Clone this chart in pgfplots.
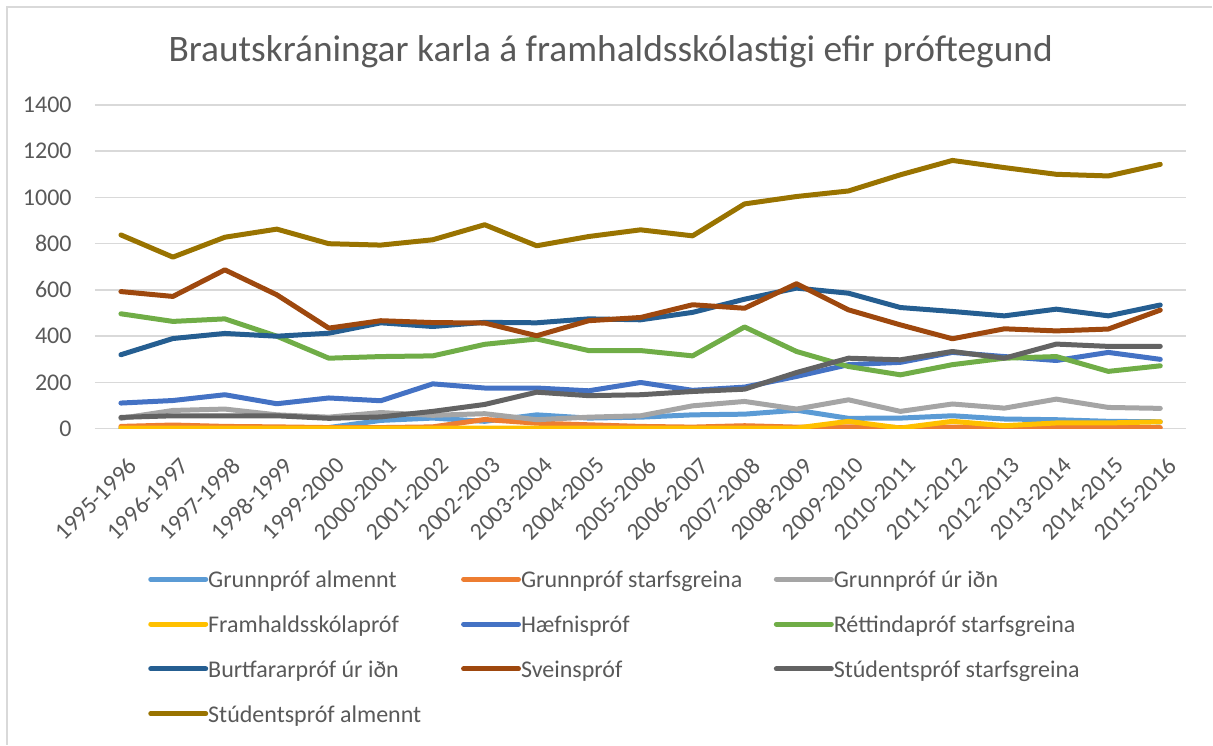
\documentclass[border=0pt]{standalone}
\usepackage{fontspec}
\setmainfont{Carlito}
\usepackage{pgfplots}
\usepackage{pgfplotstable}
\pgfplotsset{compat=1.18}

\definecolor{txt}{HTML}{595959}
\definecolor{gridc}{HTML}{D9D9D9}
\definecolor{cA}{HTML}{5B9BD5}
\definecolor{cB}{HTML}{ED7D31}
\definecolor{cC}{HTML}{A5A5A5}
\definecolor{cD}{HTML}{FFC000}
\definecolor{cE}{HTML}{4472C4}
\definecolor{cF}{HTML}{70AD47}
\definecolor{cG}{HTML}{255E91}
\definecolor{cH}{HTML}{9E480E}
\definecolor{cI}{HTML}{636363}
\definecolor{cJ}{HTML}{997300}

% i: 0 = 1995-1996 ... 20 = 2015-2016
\pgfplotstableread{
i  galm gstarf gidn framh haefni rett burt svein stst stalm
0  3    10     45   3      111    497  320  593   49   838
1  3    16     79   3      122    464  390  572   56   742
2  3    10     85   3      147    475  412  687   56   828
3  3    8      60   3      108    400  400  579   56   863
4  5    5      50   3      133    305  413  435   45   800
5  36   5      70   3      121    312  458  467   51   794
6  46   8      58   3      194    315  442  459   75   817
7  32   40     65   3      176    365  460  457   105  882
8  60   24     39   3      176    388  458  402   158  791
9  46   17     50   3      164    338  475  467   143  831
10 50   10     56   3      200    338  471  481   147  860
11 60   7      99   3      166    315  503  536   161  834
12 63   13     118  3      180    440  560  521   171  972
13 80   7      85   3      226    334  608  627   243  1004
14 45   8      125  32     277    269  586  514   305  1028
15 46   5      75   3      287    233  524  449   298  1098
16 56   7      107  32     330    277  507  389   334  1160
17 42   5      89   13     312    305  488  432   305  1129
18 39   5      128  25     295    312  517  423   366  1100
19 32   5      92   25     330    248  488  431   356  1093
20 30   5      88   30     300    272  535  513   356  1143
}\data

\begin{document}
\begin{tikzpicture}
\path (0pt,0pt) rectangle (606.5pt,372.5pt);
\draw[gridc, line width=0.75pt] (3.5pt,0pt) -- (3.5pt,369pt) -- (606.5pt,369pt);
\node[anchor=base, text=txt, font=\fontsize{18.7}{22}\selectfont, inner sep=0pt]
  at (305.5pt,341.5pt) {Brautskráningar karla á framhaldsskólastigi efir próftegund};
\begin{axis}[
  at={(47.5pt,158pt)}, anchor=south west,
  scale only axis, width=546pt, height=162pt,
  xmin=-0.5, xmax=20.5, ymin=0, ymax=1400,
  ytick={0,200,...,1400},
  xtick={0,...,20},
  xticklabels={1995-1996,1996-1997,1997-1998,1998-1999,1999-2000,2000-2001,2001-2002,2002-2003,2003-2004,2004-2005,2005-2006,2006-2007,2007-2008,2008-2009,2009-2010,2010-2011,2011-2012,2012-2013,2013-2014,2014-2015,2015-2016},
  axis line style={draw=none},
  major tick length=0pt,
  ymajorgrids, grid style={gridc, line width=0.75pt},
  /pgf/number format/assume math mode=true,
  /pgf/number format/1000 sep={},
  tick label style={font=\fontsize{12}{14.4}\selectfont, text=txt},
  yticklabel style={anchor=east, inner sep=0pt, xshift=-11.5pt},
  xticklabel style={inner sep=0pt, xshift=3pt, yshift=-13.5pt, rotate=45, anchor=north east},
  every axis plot/.append style={line width=2.5pt, line join=round, line cap=round},
  legend columns=3,
  legend image code/.code={\path (0pt,0pt) -- (27.5pt,0pt);\draw[#1] (1.25pt,0pt) -- (26.25pt,0pt);},
  legend style={at={(0.0485,-0.4278)}, anchor=north west, draw=none, fill=none,
    inner sep=0pt, column sep=0pt, row sep=10.85pt,
    font=\fontsize{12}{14.4}\selectfont, text=txt,
    nodes={inner sep=0pt, anchor=west}},
]
\addplot[cA] table[x=i,y=galm]{\data};
\addlegendentry{\makebox[126.5pt][l]{\strut Grunnpróf almennt}}
\addplot[cB] table[x=i,y=gstarf]{\data};
\addlegendentry{\makebox[126.5pt][l]{\strut Grunnpróf starfsgreina}}
\addplot[cC] table[x=i,y=gidn]{\data};
\addlegendentry{\makebox[126.5pt][l]{\strut Grunnpróf úr iðn}}
\addplot[cD] table[x=i,y=framh]{\data};
\addlegendentry{\makebox[126.5pt][l]{\strut Framhaldsskólapróf}}
\addplot[cE] table[x=i,y=haefni]{\data};
\addlegendentry{\makebox[126.5pt][l]{\strut Hæfnispróf}}
\addplot[cF] table[x=i,y=rett]{\data};
\addlegendentry{\makebox[126.5pt][l]{\strut Réttindapróf starfsgreina}}
\addplot[cG] table[x=i,y=burt]{\data};
\addlegendentry{\makebox[126.5pt][l]{\strut Burtfararpróf úr iðn}}
\addplot[cH] table[x=i,y=svein]{\data};
\addlegendentry{\makebox[126.5pt][l]{\strut Sveinspróf}}
\addplot[cI] table[x=i,y=stst]{\data};
\addlegendentry{\makebox[126.5pt][l]{\strut Stúdentspróf starfsgreina}}
\addplot[cJ] table[x=i,y=stalm]{\data};
\addlegendentry{\makebox[126.5pt][l]{\strut Stúdentspróf almennt}}
\end{axis}
\end{tikzpicture}
\end{document}
